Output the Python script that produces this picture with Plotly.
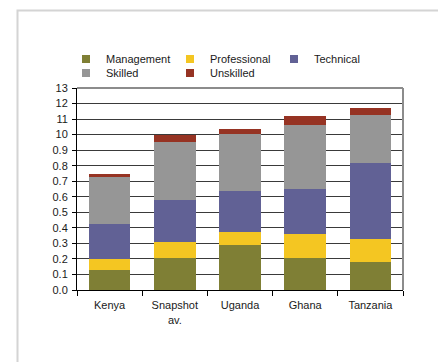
import plotly.graph_objects as go

categories = ["Kenya", "Snapshot<br>av.", "Uganda", "Ghana", "Tanzania"]
management = [0.128, 0.206, 0.289, 0.206, 0.180]
professional = [0.071, 0.102, 0.084, 0.154, 0.148]
technical = [0.225, 0.270, 0.263, 0.289, 0.488]
skilled = [0.302, 0.373, 0.366, 0.411, 0.308]
unskilled = [0.019, 0.045, 0.032, 0.058, 0.045]

tick_vals = [0.0, 0.1, 0.2, 0.3, 0.4, 0.5, 0.6, 0.7, 0.8, 0.9, 1.0, 1.1, 1.2, 1.3]
tick_text = ["0.0", "0.1", "0.2", "0.3", "0.4", "0.5", "0.6", "0.7", "0.8", "0.9",
             "10", "11", "12", "13"]

series = [
    ("Management", management, "#7f7f35", "legend"),
    ("Professional", professional, "#f4c622", "legend"),
    ("Technical", technical, "#616195", "legend"),
    ("Skilled", skilled, "#969696", "legend2"),
    ("Unskilled", unskilled, "#963323", "legend2"),
]

FONT = "Liberation Sans, Arial, sans-serif"
TXT = "#1a1a1a"
fig = go.Figure()
for name, vals, color, _ in series:
    fig.add_trace(go.Bar(x=categories, y=vals, name=name, marker_color=color,
                         marker_line_width=0, showlegend=False))
# legend entries
for name, vals, color, lg in series:
    fig.add_trace(go.Scatter(x=[None], y=[None], mode="markers", name=name,
                             marker=dict(symbol="square", size=8, color=color),
                             legend=lg, showlegend=True))

W, H = 438, 362
L, R, T, B = 77, 35, 88, 72
pw, ph = W - L - R, H - T - B

def px_x(p):
    return (p - L) / pw

def px_y(p):
    return (H - B - p) / ph

leg_common = dict(orientation="h", xanchor="left", yanchor="middle",
                  font=dict(family=FONT, size=11, color=TXT),
                  bgcolor="rgba(0,0,0,0)", borderwidth=0,
                  entrywidth=59, entrywidthmode="pixels", traceorder="normal",
                  itemclick=False)

fig.update_layout(
    width=W, height=H,
    margin=dict(l=L, r=R, t=T, b=B, autoexpand=False),
    paper_bgcolor="white", plot_bgcolor="white",
    barmode="stack", bargap=0.36,
    font=dict(family=FONT, size=11, color=TXT),
    legend=dict(x=px_x(66), y=px_y(59), **leg_common),
    legend2=dict(x=px_x(66), y=px_y(73), **leg_common),
    xaxis=dict(showline=True, linecolor="#000", linewidth=1, ticks="outside",
               tickson="boundaries", ticklen=5, tickcolor="#000",
               ticklabelstandoff=5,
               showgrid=False, tickfont=dict(size=11, family=FONT, color=TXT)),
    yaxis=dict(range=[0, 1.3], tickvals=tick_vals, ticktext=tick_text,
               showline=True, linecolor="#000", linewidth=1, ticks="outside",
               ticklen=4, tickcolor="#000", showgrid=True, gridcolor="#3a3a3a",
               gridwidth=1, zeroline=False, ticklabelstandoff=2,
               tickfont=dict(size=11, family=FONT, color=TXT)),
    shapes=[
        # plot area top/right border
        dict(type="line", xref="paper", yref="paper", x0=0, x1=1, y0=1, y1=1,
             line=dict(color="#8c8c8c", width=2)),
        dict(type="line", xref="paper", yref="paper", x0=1, x1=1, y0=0, y1=1,
             line=dict(color="#8c8c8c", width=2)),
        # outer chart frame
        dict(type="rect", xref="paper", yref="paper",
             x0=px_x(17.5), x1=px_x(460), y0=px_y(10.5), y1=px_y(380),
             line=dict(color="#d4d4d4", width=2), layer="below"),
    ],
)

fig.write_html("out.html")
